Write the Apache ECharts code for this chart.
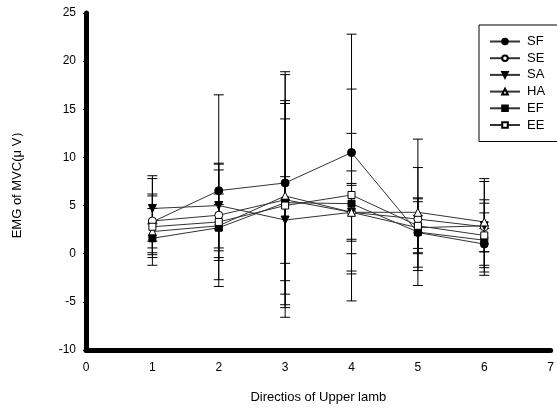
<!DOCTYPE html>
<html>
<head>
<meta charset="utf-8">
<script src="https://cdn.jsdelivr.net/npm/echarts@6/dist/echarts.min.js"></script>
<style>
  html, body { margin: 0; padding: 0; background: #fff; }
  #chart { width: 557px; height: 409px; }
</style>
</head>
<body>
<div id="chart"></div>
<script>
// directions 1..6
const directions = [1, 2, 3, 4, 5, 6];
const xTicks = [0, 1, 2, 3, 4, 5, 6, 7];
const yTicks = [-10, -5, 0, 5, 10, 15, 20, 25];

// means and error values
const sfMean = [3.3, 6.55, 7.35, 10.5, 2.2, 1.0];
const sfErr  = [4.5, 9.95, 11.55, 12.3, 3.6, 3.24];
const seMean = [3.4, 4.0, 5.6, 4.3, 3.6, 2.8];
const seErr  = [2.8, 4.7, 8.4, 2.8, 5.35, 4.7];
const saMean = [4.7, 5.0, 3.5, 4.3, 2.7, 2.9];
const saErr  = [3.4, 4.4, 4.5, 3.0, 2.7, 2.7];
const haMean = [2.3, 2.9, 6.0, 4.3, 4.3, 3.3];
const haErr  = [2.4, 3.3, 12.6, 4.3, 7.6, 4.5];
const efMean = [1.6, 2.7, 5.3, 5.2, 2.25, 1.4];
const efErr  = [1.5, 2.4, 10.6, 7.3, 1.7, 1.2];
const eeMean = [2.8, 3.3, 5.0, 6.1, 2.9, 1.9];
const eeErr  = [3.2, 6.0, 10.6, 11.0, 2.8, 3.35];

const groups = [
  { name: 'SF', mean: sfMean, err: sfErr, symbol: 'circle', open: false, rotate: 0 },
  { name: 'SE', mean: seMean, err: seErr, symbol: 'circle', open: true, rotate: 0 },
  { name: 'SA', mean: saMean, err: saErr, symbol: 'triangle', open: false, rotate: 180 },
  { name: 'HA', mean: haMean, err: haErr, symbol: 'triangle', open: true, rotate: 0 },
  { name: 'EF', mean: efMean, err: efErr, symbol: 'rect', open: false, rotate: 0 },
  { name: 'EE', mean: eeMean, err: eeErr, symbol: 'rect', open: true, rotate: 0 }
];

const font = '"Liberation Sans", Arial, sans-serif';
const chart = echarts.init(document.getElementById('chart'));

function errorBar(params, api) {
  const x = api.value(0);
  const lo = api.coord([x, api.value(1)]);
  const hi = api.coord([x, api.value(2)]);
  const w = 5;
  const st = { stroke: '#000', lineWidth: 1 };
  return {
    type: 'group',
    children: [
      { type: 'line', shape: { x1: lo[0], y1: lo[1], x2: hi[0], y2: hi[1] }, style: st },
      { type: 'line', shape: { x1: lo[0] - w, y1: lo[1], x2: lo[0] + w, y2: lo[1] }, style: st },
      { type: 'line', shape: { x1: hi[0] - w, y1: hi[1], x2: hi[0] + w, y2: hi[1] }, style: st }
    ]
  };
}

const series = [];
groups.forEach(function (g) {
  series.push({
    type: 'custom',
    name: g.name + '_err',
    renderItem: errorBar,
    z: 1,
    silent: true,
    data: directions.map(function (d, i) {
      return [d, g.mean[i] - g.err[i], g.mean[i] + g.err[i]];
    })
  });
});
groups.forEach(function (g) {
  series.push({
    type: 'line',
    name: g.name,
    z: 3,
    symbol: g.symbol,
    symbolSize: g.symbol === 'rect' ? 7 : 8,
    symbolRotate: g.rotate,
    showAllSymbol: true,
    lineStyle: { color: '#333', width: 1 },
    itemStyle: {
      color: g.open ? '#fff' : '#000',
      borderColor: '#000',
      borderWidth: 1
    },
    data: directions.map(function (d, i) { return [d, g.mean[i]]; })
  });
});

chart.setOption({
  animation: false,
  backgroundColor: '#fff',
  textStyle: { fontFamily: font },
  grid: { left: 86, right: 1, top: 13, bottom: 58 },
  legend: {
    data: groups.map(function (g) { return g.name; }),
    orient: 'vertical',
    left: 479,
    top: 25,
    padding: [10, 40, 10, 10],
    itemGap: 3.7,
    itemWidth: 30,
    itemHeight: 7,
    borderColor: '#000',
    borderWidth: 1,
    textStyle: { fontSize: 13, color: '#000', padding: [0, 0, 0, 2] }
  },
  xAxis: {
    type: 'value',
    min: xTicks[0],
    max: xTicks[xTicks.length - 1],
    interval: 1,
    name: 'Directios of Upper lamb',
    nameLocation: 'middle',
    nameGap: 41,
    nameTextStyle: { fontSize: 13, color: '#000' },
    splitLine: { show: false },
    axisLine: { onZero: false, lineStyle: { color: '#000', width: 5 } },
    axisTick: { length: 3, lineStyle: { width: 1, color: '#000' } },
    axisLabel: { fontSize: 12, color: '#000', margin: 12 }
  },
  yAxis: {
    type: 'value',
    min: yTicks[0],
    max: yTicks[yTicks.length - 1],
    interval: 5,
    name: 'EMG of MVC(μ V）',
    nameLocation: 'middle',
    nameGap: 62,
    nameTextStyle: { fontSize: 13, color: '#000' },
    splitLine: { show: false },
    axisLine: { onZero: false, lineStyle: { color: '#000', width: 5 } },
    axisTick: { length: 3, lineStyle: { width: 1, color: '#000' } },
    axisLabel: { fontSize: 12, color: '#000', margin: 10 }
  },
  series: series
});
</script>
</body>
</html>
